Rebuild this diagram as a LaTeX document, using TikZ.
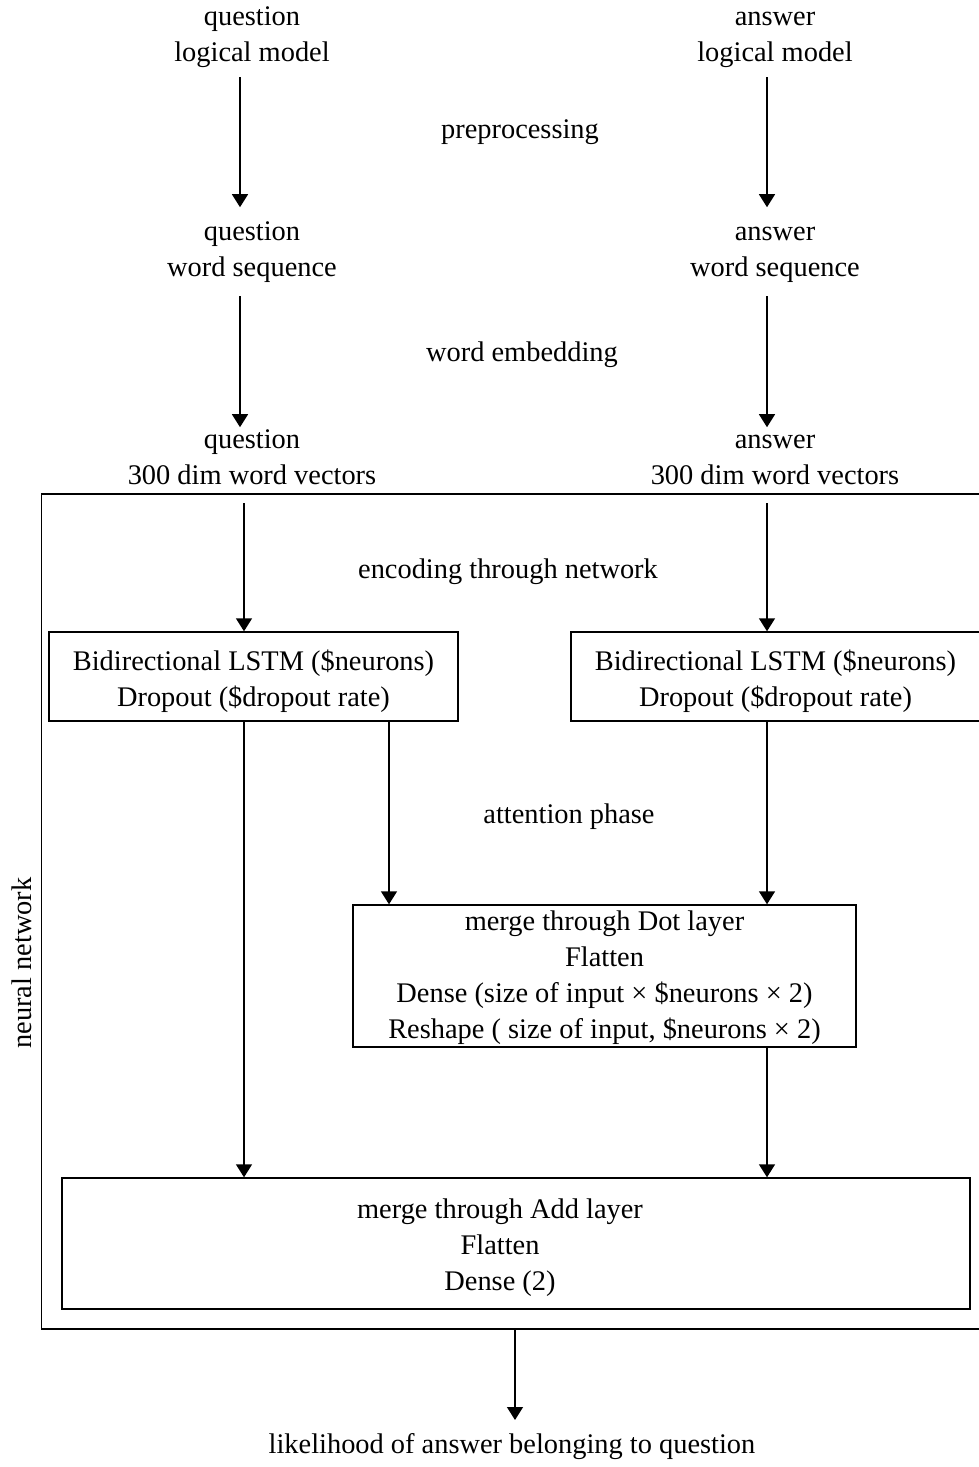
\documentclass[tikz,border=0pt]{standalone}
\usepackage{fontspec}
\setmainfont{Liberation Serif}
\usetikzlibrary{arrows.meta,calc}
\begin{document}
\begin{tikzpicture}[x=0.5pt,y=-0.5pt,
  txt/.style={align=center,inner sep=0pt,outer sep=0pt,font=\fontsize{14.2}{18}\selectfont},
  box/.style={draw,line width=0.7pt,inner sep=0pt},
  arr/.style={-{Triangle[width=8pt,length=6.5pt]},line width=0.7pt}]
\useasboundingbox (0,0) rectangle (979,1467);
\coordinate (xL) at (240,0);
\coordinate (xR) at (767,0);
\coordinate (xL2) at (244,0);
\coordinate (xM) at (389,0);
\coordinate (xO) at (515,0);
% texts
\node[txt] (qlm) at (252,36) {\strut question\\logical model\strut};
\node[txt] (alm) at (775,36) {\strut answer\\logical model\strut};
\node[txt] (pre) at (520,130.8) {\strut preprocessing};
\node[txt] (qws) at (252,251) {\strut question\\word sequence\strut};
\node[txt] (aws) at (775,251) {\strut answer\\word sequence\strut};
\node[txt] (emb) at (522,353.8) {\strut word embedding};
\node[txt] (qvec) at (252,459) {\strut question\\300 dim word vectors\strut};
\node[txt] (avec) at (775,459) {\strut answer\\300 dim word vectors\strut};
% frame
\node[box,minimum width=471.5pt,minimum height=417.5pt] (frame) at (512.75,911.5) {};
\node[txt,rotate=90] (nn) at (22,963) {neural network};
\node[txt] (enc) at (508,570.8) {\strut encoding through network};
\node[box,minimum width=204.5pt,minimum height=44.5pt] (lbox) at (253.5,676.5) {};
\node[txt] (ltxt) at (253.5,680.8) {\strut Bidirectional LSTM (\$neurons)\\Dropout (\$dropout rate)\strut};
\node[box,minimum width=205.5pt,minimum height=44.5pt] (rbox) at (776.5,676.5) {};
\node[txt] (rtxt) at (775.5,680.8) {\strut Bidirectional LSTM (\$neurons)\\Dropout (\$dropout rate)\strut};
\node[txt] (att) at (569,815.8) {\strut attention phase};
\node[box,minimum width=251.5pt,minimum height=71pt] (dot) at (604.5,976) {};
\node[txt] (dottxt) at (604.5,976.8) {\strut merge through Dot layer\\Flatten\\Dense (size of input × \$neurons × 2)\\Reshape ( size of input, \$neurons × 2)\strut};
\node[box,minimum width=454pt,minimum height=65.5pt] (add) at (516,1243.5) {};
\node[txt] (addtxt) at (500,1246.8) {\strut merge through Add layer\\Flatten\\Dense (2)\strut};
\node[txt] (res) at (512,1446.5) {\strut likelihood of answer belonging to question};
% connectors
\draw[arr,shorten <=2.6pt,shorten >=3.9pt] (qlm.south -| xL) -- (qws.north -| xL);
\draw[arr,shorten <=2.6pt,shorten >=3.9pt] (alm.south -| xR) -- (aws.north -| xR);
\draw[arr,shorten <=4.6pt,shorten >=-2.1pt] (qws.south -| xL) -- (qvec.north -| xL);
\draw[arr,shorten <=4.6pt,shorten >=-2.1pt] (aws.south -| xR) -- (avec.north -| xR);
\draw[arr,shorten <=4.1pt] (qvec.south -| xL2) -- (lbox.north -| xL2);
\draw[arr,shorten <=4.1pt] (avec.south -| xR) -- (rbox.north -| xR);
\draw[arr] (lbox.south -| xL2) -- (add.north -| xL2);
\draw[arr] (lbox.south -| xM) -- (dot.north -| xM);
\draw[arr] (rbox.south -| xR) -- (dot.north -| xR);
\draw[arr] (dot.south -| xR) -- (add.north -| xR);
\draw[arr,shorten >=4.25pt] (frame.south -| xO) -- (res.north -| xO);
\end{tikzpicture}
\end{document}
